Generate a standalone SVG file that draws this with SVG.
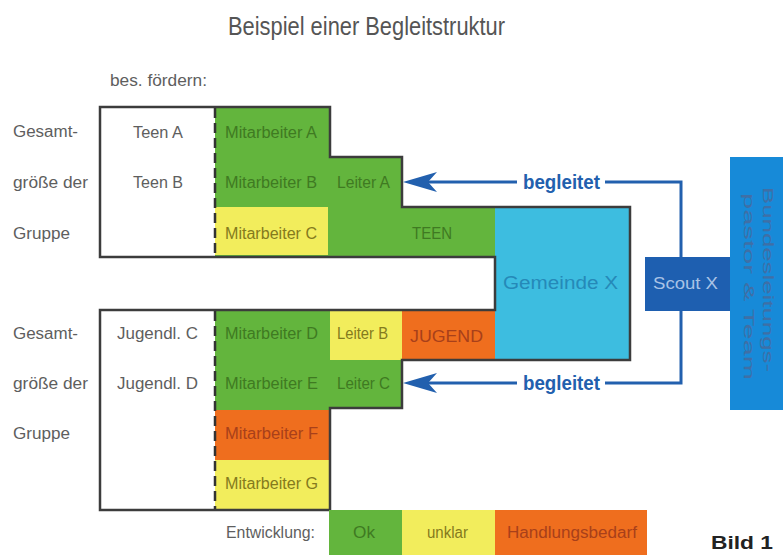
<svg xmlns="http://www.w3.org/2000/svg" width="783" height="555" viewBox="0 0 783 555">
<defs>
<style>
text{font-family:"Liberation Sans","DejaVu Sans",Arial,sans-serif;}
.lbl{font-size:16px;fill:#5e5e5e;}
.t{font-size:16px;}
.gt{fill:#3f7a22;}
.yt{fill:#847a1e;}
.ot{fill:#a8401a;}
.g{fill:#63b53d;}
.y{fill:#f2ed5c;}
.o{fill:#ef6e1e;}
.c{fill:#3dbde0;}
.conn{fill:none;stroke:#2260ae;stroke-width:3;}
.bg{font-size:20px;font-weight:bold;fill:#2260ae;}
</style>
<marker id="arr" viewBox="-10 -11 36 22" markerWidth="36" markerHeight="22" refX="0" refY="0" orient="auto" markerUnits="userSpaceOnUse">
<path d="M25,0 L-9,-10 L0,0 L-9,10 Z" fill="#2260ae"/>
</marker>
</defs>
<rect width="783" height="555" fill="#ffffff"/>

<text x="228" y="35" font-size="25" fill="#555" textLength="277" lengthAdjust="spacingAndGlyphs">Beispiel einer Begleitstruktur</text>
<text class="lbl" x="110" y="86" textLength="97" lengthAdjust="spacingAndGlyphs">bes. fördern:</text>

<g id="labels-left">
<text class="lbl" x="13" y="137" textLength="65" lengthAdjust="spacingAndGlyphs">Gesamt-</text>
<text class="lbl" x="13" y="188" textLength="75" lengthAdjust="spacingAndGlyphs">größe der</text>
<text class="lbl" x="13" y="239" textLength="57" lengthAdjust="spacingAndGlyphs">Gruppe</text>
<text class="lbl" x="13" y="339" textLength="65" lengthAdjust="spacingAndGlyphs">Gesamt-</text>
<text class="lbl" x="13" y="389" textLength="75" lengthAdjust="spacingAndGlyphs">größe der</text>
<text class="lbl" x="13" y="439" textLength="57" lengthAdjust="spacingAndGlyphs">Gruppe</text>
</g>

<g id="fills">
<rect class="g" x="215" y="107" width="115" height="100"/>
<rect class="g" x="330" y="157" width="72" height="50"/>
<rect class="g" x="215" y="207" width="280" height="50"/>
<rect class="y" x="215" y="207" width="113" height="48"/>
<rect class="c" x="495" y="207" width="135" height="153"/>
<rect class="g" x="215" y="310" width="115" height="100"/>
<rect class="y" x="330" y="310" width="72" height="50"/>
<rect class="o" x="402" y="310" width="93" height="50"/>
<rect class="g" x="330" y="360" width="72" height="48"/>
<rect class="o" x="215" y="410" width="115" height="50"/>
<rect class="y" x="215" y="460" width="115" height="50"/>
</g>

<g id="outline">
<path d="M100,107 L330,107 L330,157 L402,157 L402,207 L630,207 L630,360 L402,360 L402,408 L330,408 L330,510 L100,510 L100,310 L495,310 L495,257 L100,257 Z" fill="none" stroke="#3c3c3c" stroke-width="2.5" stroke-linejoin="miter"/>
<line x1="215" y1="108" x2="215" y2="256" stroke="#333" stroke-width="2.5" stroke-dasharray="10,5"/>
<line x1="215" y1="311" x2="215" y2="509" stroke="#333" stroke-width="2.5" stroke-dasharray="10,5"/>
</g>

<g id="teen-a"><text class="lbl" x="133" y="138" textLength="50" lengthAdjust="spacingAndGlyphs">Teen A</text></g>
<g id="teen-b"><text class="lbl" x="133" y="188" textLength="50" lengthAdjust="spacingAndGlyphs">Teen B</text></g>
<g id="jugendl-c"><text class="lbl" x="117" y="339" textLength="81" lengthAdjust="spacingAndGlyphs">Jugendl. C</text></g>
<g id="jugendl-d"><text class="lbl" x="117" y="389" textLength="81" lengthAdjust="spacingAndGlyphs">Jugendl. D</text></g>

<g id="mitarbeiter-a"><text class="t gt" x="225" y="138" textLength="92" lengthAdjust="spacingAndGlyphs">Mitarbeiter A</text></g>
<g id="mitarbeiter-b"><text class="t gt" x="225" y="188" textLength="92" lengthAdjust="spacingAndGlyphs">Mitarbeiter B</text></g>
<g id="mitarbeiter-c"><text class="t yt" x="225" y="239" textLength="92" lengthAdjust="spacingAndGlyphs">Mitarbeiter C</text></g>
<g id="leiter-a"><text class="t gt" x="337" y="188" textLength="53" lengthAdjust="spacingAndGlyphs">Leiter A</text></g>
<g id="teen"><text class="t gt" x="412" y="239" textLength="40" lengthAdjust="spacingAndGlyphs">TEEN</text></g>
<g id="gemeinde-x"><text font-size="18" fill="#2589b8" x="503" y="289" textLength="115" lengthAdjust="spacingAndGlyphs">Gemeinde X</text></g>

<g id="mitarbeiter-d"><text class="t gt" x="225" y="339" textLength="93" lengthAdjust="spacingAndGlyphs">Mitarbeiter D</text></g>
<g id="mitarbeiter-e"><text class="t gt" x="225" y="389" textLength="93" lengthAdjust="spacingAndGlyphs">Mitarbeiter E</text></g>
<g id="mitarbeiter-f"><text class="t ot" x="225" y="439" textLength="93" lengthAdjust="spacingAndGlyphs">Mitarbeiter F</text></g>
<g id="mitarbeiter-g"><text class="t yt" x="225" y="489" textLength="93" lengthAdjust="spacingAndGlyphs">Mitarbeiter G</text></g>
<g id="leiter-b"><text class="t yt" x="337" y="339" textLength="51" lengthAdjust="spacingAndGlyphs">Leiter B</text></g>
<g id="leiter-c"><text class="t gt" x="337" y="389" textLength="53" lengthAdjust="spacingAndGlyphs">Leiter C</text></g>
<g id="jugend"><text class="t ot" font-size="17" x="410" y="342" textLength="73" lengthAdjust="spacingAndGlyphs">JUGEND</text></g>

<g id="scout-x">
<rect x="645" y="257" width="86" height="54" fill="#1e5fb0"/>
<text font-size="17" fill="#a9c3e6" x="653" y="289" textLength="65" lengthAdjust="spacingAndGlyphs">Scout X</text>
</g>

<g id="bundesleitung">
<rect x="730" y="157" width="60" height="253" fill="#178ad8"/>
<text font-size="15" fill="#3f6fa6" transform="translate(763,187) rotate(90)" textLength="185" lengthAdjust="spacingAndGlyphs">Bundesleitungs-</text>
<text font-size="15" fill="#3f6fa6" transform="translate(744,193) rotate(90)" textLength="187" lengthAdjust="spacingAndGlyphs">pastor &amp; Team</text>
</g>

<g id="connectors">
<path class="conn" d="M681,257 L681,182 L605,182"/>
<path class="conn" d="M517,182 L428,182" marker-end="url(#arr)"/>
<text class="bg" x="523" y="189" textLength="77" lengthAdjust="spacingAndGlyphs">begleitet</text>
<path class="conn" d="M681,311 L681,383 L605,383"/>
<path class="conn" d="M517,383 L428,383" marker-end="url(#arr)"/>
<text class="bg" x="523" y="390" textLength="77" lengthAdjust="spacingAndGlyphs">begleitet</text>
</g>

<g id="legend">
<text class="lbl" x="226" y="538" textLength="89" lengthAdjust="spacingAndGlyphs">Entwicklung:</text>
<rect class="g" x="329" y="510" width="73" height="45"/>
<text class="t gt" x="353" y="538" textLength="22" lengthAdjust="spacingAndGlyphs">Ok</text>
<rect class="y" x="402" y="510" width="93" height="45"/>
<text class="t yt" x="427" y="538" textLength="41" lengthAdjust="spacingAndGlyphs">unklar</text>
<rect class="o" x="495" y="510" width="152" height="45"/>
<text class="t ot" x="507" y="538" textLength="130" lengthAdjust="spacingAndGlyphs">Handlungsbedarf</text>
</g>

<text x="711" y="549" font-family="Liberation Serif,serif" font-weight="bold" font-size="19" fill="#222" textLength="62" lengthAdjust="spacingAndGlyphs">Bild 1</text>
</svg>
